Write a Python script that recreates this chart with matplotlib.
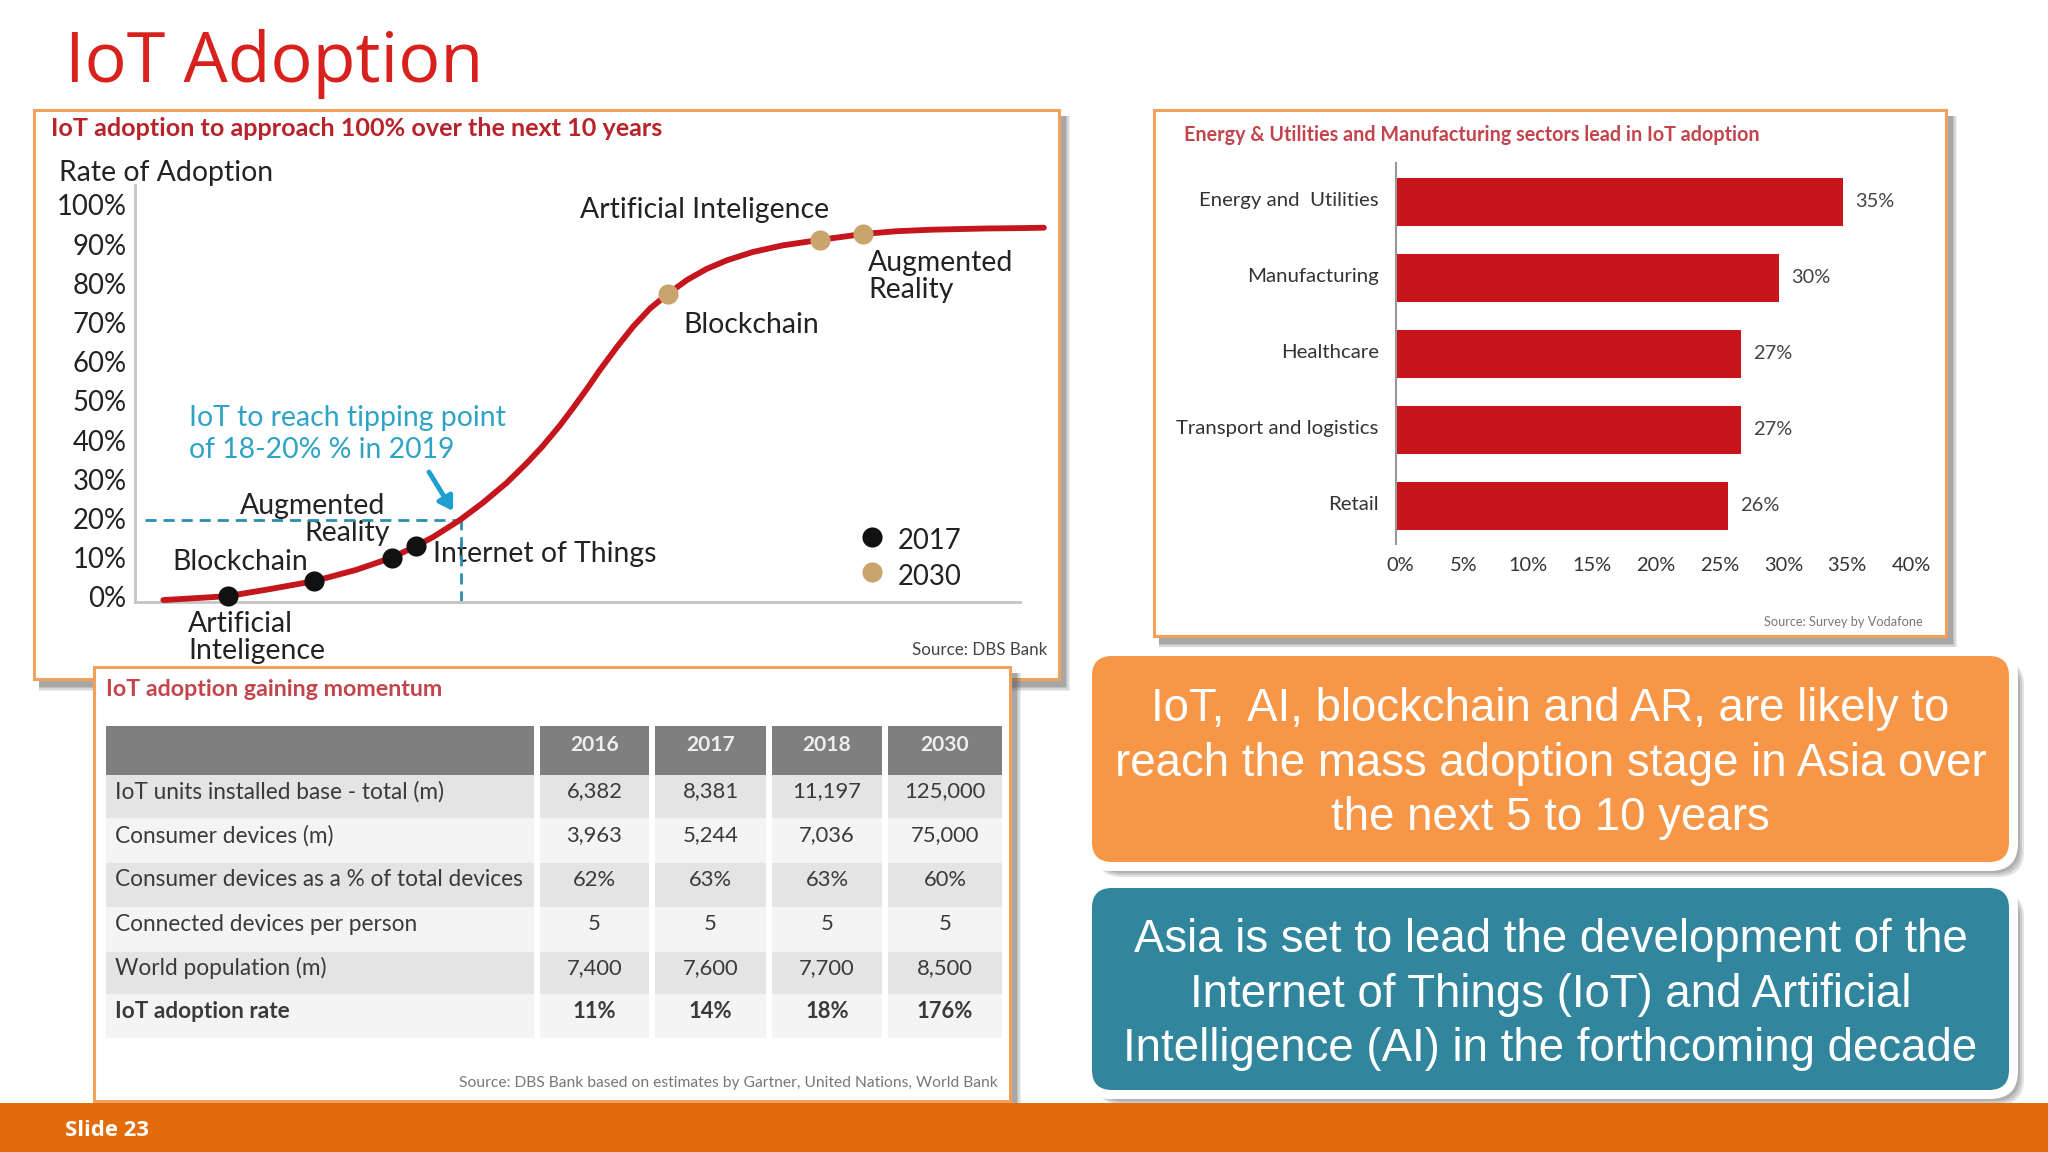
import matplotlib
matplotlib.use('Agg')
import matplotlib.pyplot as plt
from matplotlib.patches import Rectangle, FancyBboxPatch
from matplotlib.transforms import ScaledTranslation

W, H = 2048, 1152

# adoption curve, x is position along the axis in %
curve_x = [3.2, 7, 10.5, 15, 20.2, 25, 29, 31.7, 33.7, 36.7, 39.3, 42, 44.3, 46, 48, 49.5, 51.1, 52.5,
           54.5, 56.3, 58.2, 60.2, 62.4, 64.6, 66.9, 69.8, 73.2, 77.4, 82.3, 86, 90.1, 96, 100, 102.7]
curve_y = [-0.8, -0.3, 0.2, 1.9, 4, 6.9, 10, 12.9, 15.3, 19.6, 24, 29.1, 34.2, 38.3, 43.7, 48.2, 53.2, 57.8,
           63.9, 69, 73.6, 77.3, 80.9, 83.7, 85.9, 88, 89.7, 91.1, 92.6, 93.3, 93.7, 94, 94.1, 94.2]
pts_2017_x = [10.5, 20.2, 29, 31.7]
pts_2017_y = [0.2, 4, 10, 12.9]
pts_2030_x = [60.2, 77.4, 82.3]
pts_2030_y = [77.3, 91.1, 92.6]
rate_ticks = [0, 10, 20, 30, 40, 50, 60, 70, 80, 90, 100]

# sectors
sectors = ['Energy and  Utilities', 'Manufacturing', 'Healthcare', 'Transport and logistics', 'Retail']
sector_vals = [35, 30, 27, 27, 26]
sector_ticks = [0, 5, 10, 15, 20, 25, 30, 35, 40]

# table
years = ['2016', '2017', '2018', '2030']
row_names = ['IoT units installed base - total (m)', 'Consumer devices (m)',
             'Consumer devices as a % of total devices', 'Connected devices per person',
             'World population (m)', 'IoT adoption rate']
installed = ['6,382', '8,381', '11,197', '125,000']
consumer = ['3,963', '5,244', '7,036', '75,000']
consumer_pct = ['62%', '63%', '63%', '60%']
per_person = ['5', '5', '5', '5']
population = ['7,400', '7,600', '7,700', '8,500']
adoption = ['11%', '14%', '18%', '176%']
rows = [installed, consumer, consumer_pct, per_person, population, adoption]

orange_lines = ['IoT,  AI, blockchain and AR, are likely to',
                'reach the mass adoption stage in Asia over',
                'the next 5 to 10 years']
teal_lines = ['Asia is set to lead the development of the',
              'Internet of Things (IoT) and Artificial',
              'Intelligence (AI) in the forthcoming decade']

RED = '#c4161c'
EDGE = '#f0a25c'
FONT = 'Lato'
TXT = '#222222'


def px(v):
    # font size from pixels
    return v * 0.72


def ax_px(x0, y0, x1, y1):
    a = fig.add_axes([x0 / W, 1 - y1 / H, (x1 - x0) / W, (y1 - y0) / H])
    a.patch.set_alpha(0)
    return a


def panel(x0, y0, x1, y1, z):
    # soft shadow then box
    for i, al in enumerate([0.10, 0.14, 0.18, 0.22]):
        d = 9 - i * 1.5
        bg.add_patch(Rectangle((x0 + 5, y0 + 6), x1 - x0 + d - 3, y1 - y0 + d - 3, fc='#555555', ec='none', alpha=al, zorder=z))
    bg.add_patch(Rectangle((x0, y0), x1 - x0, y1 - y0, fc='white', ec=EDGE, lw=2.2, zorder=z + 0.1))


def round_box(x0, y0, x1, y1, color, lines, ys):
    for d, al in zip([15, 13, 11], [0.25, 0.3, 0.4]):
        bg.add_patch(FancyBboxPatch((x0 + 4, y0 + 4), x1 - x0 - 4 + d, y1 - y0 - 4 + d, boxstyle='round,pad=0,rounding_size=26',
                                    fc='#8c8c8c', ec='none', alpha=al, zorder=5))
    bg.add_patch(FancyBboxPatch((x0 - 9, y0 - 9), x1 - x0 + 18, y1 - y0 + 18, boxstyle='round,pad=0,rounding_size=28',
                                fc='white', ec='none', zorder=5.1))
    bg.add_patch(FancyBboxPatch((x0, y0), x1 - x0, y1 - y0, boxstyle='round,pad=0,rounding_size=20',
                                fc=color, ec='none', zorder=5.2))
    for s, y in zip(lines, ys):
        bg.text((x0 + x1) / 2, y, s, color='white', family='Liberation Sans', fontsize=px(45.6),
                ha='center', va='center', zorder=6)


fig = plt.figure(figsize=(20.48, 11.52), dpi=100, facecolor='white')

# slide layer in pixels
bg = fig.add_axes([0, 0, 1, 1])
bg.set_xlim(0, W)
bg.set_ylim(H, 0)
bg.axis('off')

bg.add_patch(Rectangle((0, 1103), W, 49, fc='#e36c0a', ec='none', zorder=8))
bg.text(65, 1131, 'Slide 23', color='white', family='Open Sans', fontweight='bold', fontsize=px(22), va='center', zorder=9)
bg.text(65, 64, 'IoT Adoption', color='#d8201c', family='Open Sans', fontsize=px(70), va='center')

panel(34, 110, 1059, 679, 1)
panel(1154, 110, 1946, 636, 1)
panel(94, 667, 1010, 1101, 3)

# panel 1 texts
t1 = dict(family=FONT, color=TXT, zorder=2, va='center', fontsize=px(28.4))
bg.text(51, 129, 'IoT adoption to approach 100% over the next 10 years', color='#b8232a', family=FONT,
        fontweight='bold', fontsize=px(25.1), va='center', zorder=2)
bg.text(59, 173, 'Rate of Adoption', **t1)
bg.text(580, 210, 'Artificial Inteligence', **t1)
bg.text(868, 263, 'Augmented', **t1)
bg.text(868, 290, 'Reality', **t1)
bg.text(683, 325, 'Blockchain', **t1)
bg.text(189, 418, 'IoT to reach tipping point', fontsize=px(28.4), family=FONT, color='#2ea3c6', va='center', zorder=2)
bg.text(189, 450, 'of 18-20% % in 2019', fontsize=px(28.4), family=FONT, color='#2ea3c6', va='center', zorder=2)
bg.text(240, 506, 'Augmented', **t1)
bg.text(304, 533, 'Reality', **t1)
bg.text(172, 562, 'Blockchain', **t1)
bg.text(433, 554, 'Internet of Things', **t1)
bg.text(188, 624, 'Artificial', **t1)
bg.text(188, 651, 'Inteligence', **t1)
bg.text(898, 541, '2017', fontsize=px(27.5), family=FONT, color=TXT, zorder=2, va='center')
bg.text(898, 577, '2030', fontsize=px(27.5), family=FONT, color=TXT, zorder=2, va='center')
bg.text(1047, 650, 'Source: DBS Bank', family=FONT, color='#444444', fontsize=px(17), ha='right', va='center', zorder=2)
bg.annotate('', xy=(453, 511), xytext=(429, 472), zorder=2,
            arrowprops=dict(arrowstyle='-|>,head_width=0.5,head_length=0.8', color='#1f9fd0', lw=3.5, shrinkA=0, shrinkB=0))

# s-curve
ax1 = ax_px(135, 185, 1020, 602)
ax1.set_xlim(0, 100)
ax1.set_ylim(-1.3, 105.1)
ax1.plot([1.1, 36.8], [19.6, 19.6], color='#2a8fb0', lw=2, dashes=(4, 2.5))
ax1.plot([36.8, 36.8], [-1.3, 19.6], color='#2a8fb0', lw=2, dashes=(4, 2.5))
ax1.plot(curve_x, curve_y, color=RED, lw=4.2, solid_capstyle='round', solid_joinstyle='round', clip_on=False, zorder=3)
ax1.plot(pts_2017_x, pts_2017_y, 'o', color='#111111', ms=14.5, mec='none', zorder=4, clip_on=False)
ax1.plot(pts_2030_x, pts_2030_y, 'o', color='#c9a46c', ms=14.5, mec='none', zorder=4, clip_on=False)
for s in ['top', 'right']:
    ax1.spines[s].set_visible(False)
for s in ['left', 'bottom']:
    ax1.spines[s].set_color('#c4c4c4')
    ax1.spines[s].set_linewidth(2)
ax1.set_xticks([])
ax1.set_yticks(rate_ticks)
ax1.set_yticklabels([str(v) + '%' for v in rate_ticks], family=FONT, color=TXT, fontsize=px(27.5))
ax1.tick_params(axis='y', length=0, pad=6)

# legend dots, drawn on slide layer
bg.plot([872], [537], 'o', color='#111111', ms=14.5, mec='none', zorder=2)
bg.plot([872], [572], 'o', color='#c9a46c', ms=14.5, mec='none', zorder=2)

# bars
bg.text(1184, 135, 'Energy & Utilities and Manufacturing sectors lead in IoT adoption', color='#c4444c', family=FONT,
        fontweight='bold', fontsize=px(19.8), va='center', zorder=2)
ax2 = ax_px(1396, 163, 1907, 544)
ax2.barh(range(len(sectors)), sector_vals, height=0.63, color='#c8151c')
ax2.set_xlim(0, 40)
ax2.set_ylim(4.5, -0.51)
ax2.set_yticks(range(len(sectors)))
ax2.set_yticklabels(sectors, family=FONT, color='#333333', fontsize=px(20.4))
ax2.set_xticks(sector_ticks)
ax2.set_xticklabels([str(v) + '%' for v in sector_ticks], family=FONT, color='#333333', fontsize=px(20))
ax2.tick_params(length=0)
ax2.tick_params(axis='y', pad=12.5)
ax2.tick_params(axis='x', pad=9.5)
for l in ax2.get_yticklabels():
    l.set_transform(l.get_transform() + ScaledTranslation(0, 2 / 72, fig.dpi_scale_trans))
for l in ax2.get_xticklabels():
    l.set_transform(l.get_transform() + ScaledTranslation(3 / 72, 0, fig.dpi_scale_trans))
for s in ['top', 'right', 'bottom']:
    ax2.spines[s].set_visible(False)
ax2.spines['left'].set_color('#999999')
ax2.spines['left'].set_linewidth(1.5)
for i, v in enumerate(sector_vals):
    ax2.text(v + 0.95, i, str(v) + '%', family=FONT, color='#444444', fontsize=px(20), va='center')
bg.text(1923, 622, 'Source: Survey by Vodafone', family=FONT, color='#777777', fontsize=px(12.8), ha='right', va='center', zorder=2)

# table
bg.text(106, 689, 'IoT adoption gaining momentum', color='#c4444c', family=FONT, fontweight='bold', fontsize=px(23.2),
        va='center', zorder=4)
col_x = [(106, 534), (540, 649), (655, 766), (772, 882), (888, 1002)]
row_y = [(775, 818), (818, 863), (863, 907), (907, 952), (952, 994), (994, 1038)]
row_col = ['#e4e4e4', '#f4f4f4', '#e4e4e4', '#f4f4f4', '#e4e4e4', '#f4f4f4']
for c0, c1 in col_x:
    bg.add_patch(Rectangle((c0, 726), c1 - c0, 49, fc='#7f7f7f', ec='none', zorder=4))
    for (r0, r1), rc in zip(row_y, row_col):
        bg.add_patch(Rectangle((c0, r0), c1 - c0, r1 - r0, fc=rc, ec='none', zorder=4))
for (c0, c1), yr in zip(col_x[1:], years):
    bg.text((c0 + c1) / 2, 745, yr, color='#eeeeee', family=FONT, fontweight='bold', fontsize=px(21), ha='center', va='center', zorder=5)
for n, (name, vals, (r0, r1)) in enumerate(zip(row_names, rows, row_y)):
    w = 'bold' if n == 5 else 'normal'
    yc = (r0 + r1) / 2 - 5
    bg.text(115, yc, name, color='#3a3a3a', family=FONT, fontweight=w, fontsize=px(22.6), va='center', zorder=5)
    for (c0, c1), s in zip(col_x[1:], vals):
        bg.text((c0 + c1) / 2, yc, s, color='#3a3a3a', family=FONT, fontweight=w, fontsize=px(22), ha='center', va='center', zorder=5)
bg.text(998, 1083, 'Source: DBS Bank based on estimates by Gartner, United Nations, World Bank', color='#777777', family=FONT,
        fontsize=px(15.6), ha='right', va='center', zorder=5)

# call-out boxes
round_box(1092, 656, 2009, 862, '#f79646', orange_lines, [709, 764, 818])
round_box(1092, 888, 2009, 1090, '#31859c', teal_lines, [940, 995, 1049])

fig.savefig('out.png', dpi=100)
